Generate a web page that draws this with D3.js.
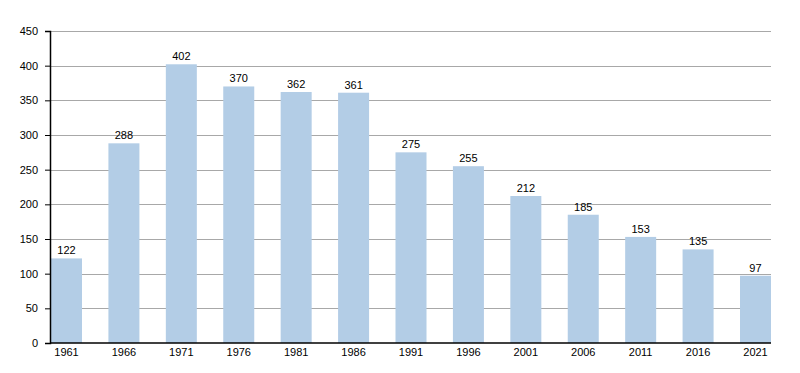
<!DOCTYPE html>
<html>
<head>
<meta charset="utf-8">
<script src="https://cdn.jsdelivr.net/npm/d3@7"></script>
<style>
  body { margin: 0; background: #fff; }
  #chart text { font-family: "Liberation Sans", Arial, sans-serif; font-size: 11px; fill: #000; }
</style>
</head>
<body>
<div id="chart"></div>
<script>
const years = ["1961", "1966", "1971", "1976", "1981", "1986", "1991", "1996", "2001", "2006", "2011", "2016", "2021"];
const counts = [122, 288, 402, 370, 362, 361, 275, 255, 212, 185, 153, 135, 97];
const yTicks = [0, 50, 100, 150, 200, 250, 300, 350, 400, 450];

(function () {
    const W = 800, H = 373;
    const margin = { top: 31, right: 29, bottom: 30, left: 50 };
    const width = W - margin.left - margin.right;
    const height = H - margin.top - margin.bottom;

    const svg = d3.select("#chart").append("svg")
        .attr("width", W)
        .attr("height", H)
        .append("g")
        .attr("transform", `translate(${margin.left},${margin.top})`);

    const x = d3.scaleBand().domain(years).range([1, width]).paddingInner(0.46).paddingOuter(0);
    const y = d3.scaleLinear().domain([0, 450]).range([height, 0]);

    // gridlines
    svg.append("g")
        .selectAll("line")
        .data(yTicks.filter(d => d > 0))
        .enter().append("line")
        .attr("x1", 0).attr("x2", width)
        .attr("y1", d => Math.round(y(d)) + 0.5)
        .attr("y2", d => Math.round(y(d)) + 0.5)
        .attr("stroke", "#a8a8a8")
        .attr("stroke-width", 1);

    // bars
    svg.selectAll(".bar")
        .data(counts)
        .enter().append("rect")
        .attr("class", "bar")
        .attr("x", (d, i) => x(years[i]))
        .attr("y", d => y(d))
        .attr("width", x.bandwidth())
        .attr("height", d => height - y(d))
        .attr("fill", "#b3cde6");

    // value labels
    svg.selectAll(".val")
        .data(counts)
        .enter().append("text")
        .attr("class", "val")
        .attr("x", (d, i) => x(years[i]) + x.bandwidth() / 2)
        .attr("y", d => y(d) - 4)
        .attr("text-anchor", "middle")
        .text(d => d);

    // y axis
    const yAxis = svg.append("g")
        .call(d3.axisLeft(y).tickValues(yTicks).tickSize(5).tickPadding(7));
    yAxis.select(".domain").attr("stroke", "#000").attr("stroke-width", 1.5);
    yAxis.selectAll(".tick line").attr("stroke", "#000");

    // x axis
    const xAxis = svg.append("g")
        .attr("transform", `translate(0,${height})`)
        .call(d3.axisBottom(x).tickSize(0).tickPadding(5).tickSizeOuter(0));
    xAxis.select(".domain").attr("stroke", "#000").attr("stroke-width", 1.5)
        .attr("d", `M0,0H${width}`);
})();
</script>
</body>
</html>
